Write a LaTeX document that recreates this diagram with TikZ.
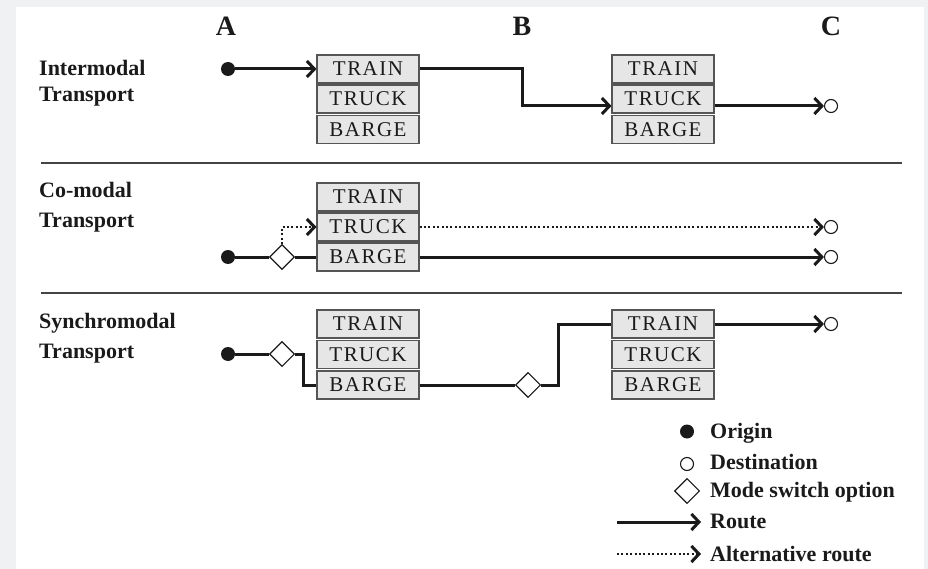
\documentclass[tikz,border=0pt]{standalone}
\usepackage{fontspec}
\setmainfont{Liberation Serif}
\newfontfamily\boxfont[LetterSpace=7]{Liberation Serif}
\usetikzlibrary{arrows.meta,shapes.geometric}
\definecolor{bg}{HTML}{F0F1F3}
\definecolor{ink}{HTML}{1A1A1A}
\definecolor{boxfill}{HTML}{E6E6E6}
\definecolor{boxline}{HTML}{555555}
\definecolor{sepline}{HTML}{444444}
\begin{document}
\begin{tikzpicture}[x=1pt,y=-1pt,
  modebox/.style={draw=boxline, fill=boxfill, line width=1.1pt, minimum width=102pt,
    minimum height=28pt, inner sep=0pt, text=ink, font=\boxfont\fontsize{21}{21}\selectfont},
  lab/.style={anchor=base west, inner sep=0pt, text=ink, font=\bfseries\fontsize{22}{26}\selectfont},
  point/.style={anchor=base, inner sep=0pt, text=ink, font=\bfseries\fontsize{28}{30}\selectfont},
  origin/.style={circle, fill=ink, minimum size=14pt, inner sep=0pt},
  dest/.style={circle, draw=ink, line width=1.1pt, fill=white, minimum size=13pt, inner sep=0pt},
  switch/.style={diamond, draw=ink, line width=1.1pt, fill=white, minimum width=25pt,
    minimum height=25pt, inner sep=0pt},
  path/.style={draw=ink, line width=3pt},
  tipp/.style={-{Straight Barb[length=7.5pt,width=16pt,line width=3pt]}},
  route/.style={path, tipp},
  altroute/.style={draw=ink, line width=2.2pt, dash pattern=on 2pt off 2.4pt, tipp},
  sep/.style={draw=sepline, line width=1.2pt}]

\useasboundingbox (0,0) rectangle (928,569);
\fill[bg] (0,0) rectangle (928,569);
\fill[white] (16,7) rectangle (924,569);

% column headings
\node[point] (pA) at (226,36) {A};
\node[point] (pB) at (522,36) {B};
\node[point] (pC) at (831,36) {C};

% ---------- Intermodal ----------
\node[lab] (l1a) at (39,76) {Intermodal};
\node[lab] (l1b) at (39,102) {Transport};
\node[modebox] (tr1) at (368,69) {TRAIN};
\node[modebox] (tk1) at (368,99) {TRUCK};
\node[modebox] (bg1) at (368,129.5) {BARGE};
\node[modebox] (tr2) at (663,69) {TRAIN};
\node[modebox] (tk2) at (663,99) {TRUCK};
\node[modebox] (bg2) at (663,129.5) {BARGE};
\node[origin] (o1) at (228,69) {};
\node[dest] (d1) at (831,106) {};
\coordinate (k1) at (522,106);
\draw[route] (o1) -- (tr1.west);
\draw[route] (tr1.east) -| (k1) -- (k1 -| tk2.west);
\draw[route] (tk2.east |- d1) -- (d1);

\draw[sep] (41,163) -- (902,163);

% ---------- Co-modal ----------
\node[lab] (l2a) at (39,198) {Co-modal};
\node[lab] (l2b) at (39,228) {Transport};
\node[modebox] (tr3) at (368,197) {TRAIN};
\node[modebox] (tk3) at (368,227) {TRUCK};
\node[modebox] (bg3) at (368,257) {BARGE};
\node[origin] (o2) at (228,257) {};
\node[switch] (s1) at (282,257) {};
\node[dest] (d2) at (831,227) {};
\node[dest] (d3) at (831,257) {};
\draw[path] (o2) -- (s1);
\draw[path] (s1) -- (bg3);
\draw[altroute] (s1.north) |- (tk3.west);
\draw[altroute] (tk3.east) -- (d2);
\draw[route] (bg3.east) -- (d3);

\draw[sep] (41,293) -- (902,293);

% ---------- Synchromodal ----------
\node[lab] (l3a) at (39,328) {Synchromodal};
\node[lab] (l3b) at (39,358) {Transport};
\node[modebox] (tr5) at (368,324) {TRAIN};
\node[modebox] (tk5) at (368,354.5) {TRUCK};
\node[modebox] (bg5) at (368,385) {BARGE};
\node[modebox] (tr6) at (663,324) {TRAIN};
\node[modebox] (tk6) at (663,354.5) {TRUCK};
\node[modebox] (bg6) at (663,385) {BARGE};
\node[origin] (o3) at (228,354) {};
\node[switch] (s2) at (282,354) {};
\node[switch] (s3) at (528,385) {};
\node[dest] (d4) at (831,324) {};
\coordinate (k2) at (303,354);
\coordinate (k3) at (558,385);
\draw[path] (o3) -- (s2);
\draw[path] (s2.east) -- (k2) |- (bg5.west);
\draw[path] (bg5) -- (s3);
\draw[path] (s3.east) -- (k3) |- (tr6.west);
\draw[route] (tr6.east) -- (d4);

% ---------- Legend ----------
\node[origin] (lo) at (687,431.5) {};
\node[lab] (lto) at (710,438) {Origin};
\node[dest] (ld) at (687,464) {};
\node[lab] (ltd) at (710,469) {Destination};
\node[switch] (ls) at (687,491) {};
\node[lab] (lts) at (710,497) {Mode switch option};
\coordinate (r0) at (617,522);
\coordinate (r1) at (701,522);
\draw[route] (r0) -- (r1);
\node[lab] (ltr) at (710,528) {Route};
\coordinate (a0) at (617,554);
\coordinate (a1) at (701,554);
\draw[altroute] (a0) -- (a1);
\node[lab] (lta) at (710,561) {Alternative route};
\end{tikzpicture}
\end{document}
